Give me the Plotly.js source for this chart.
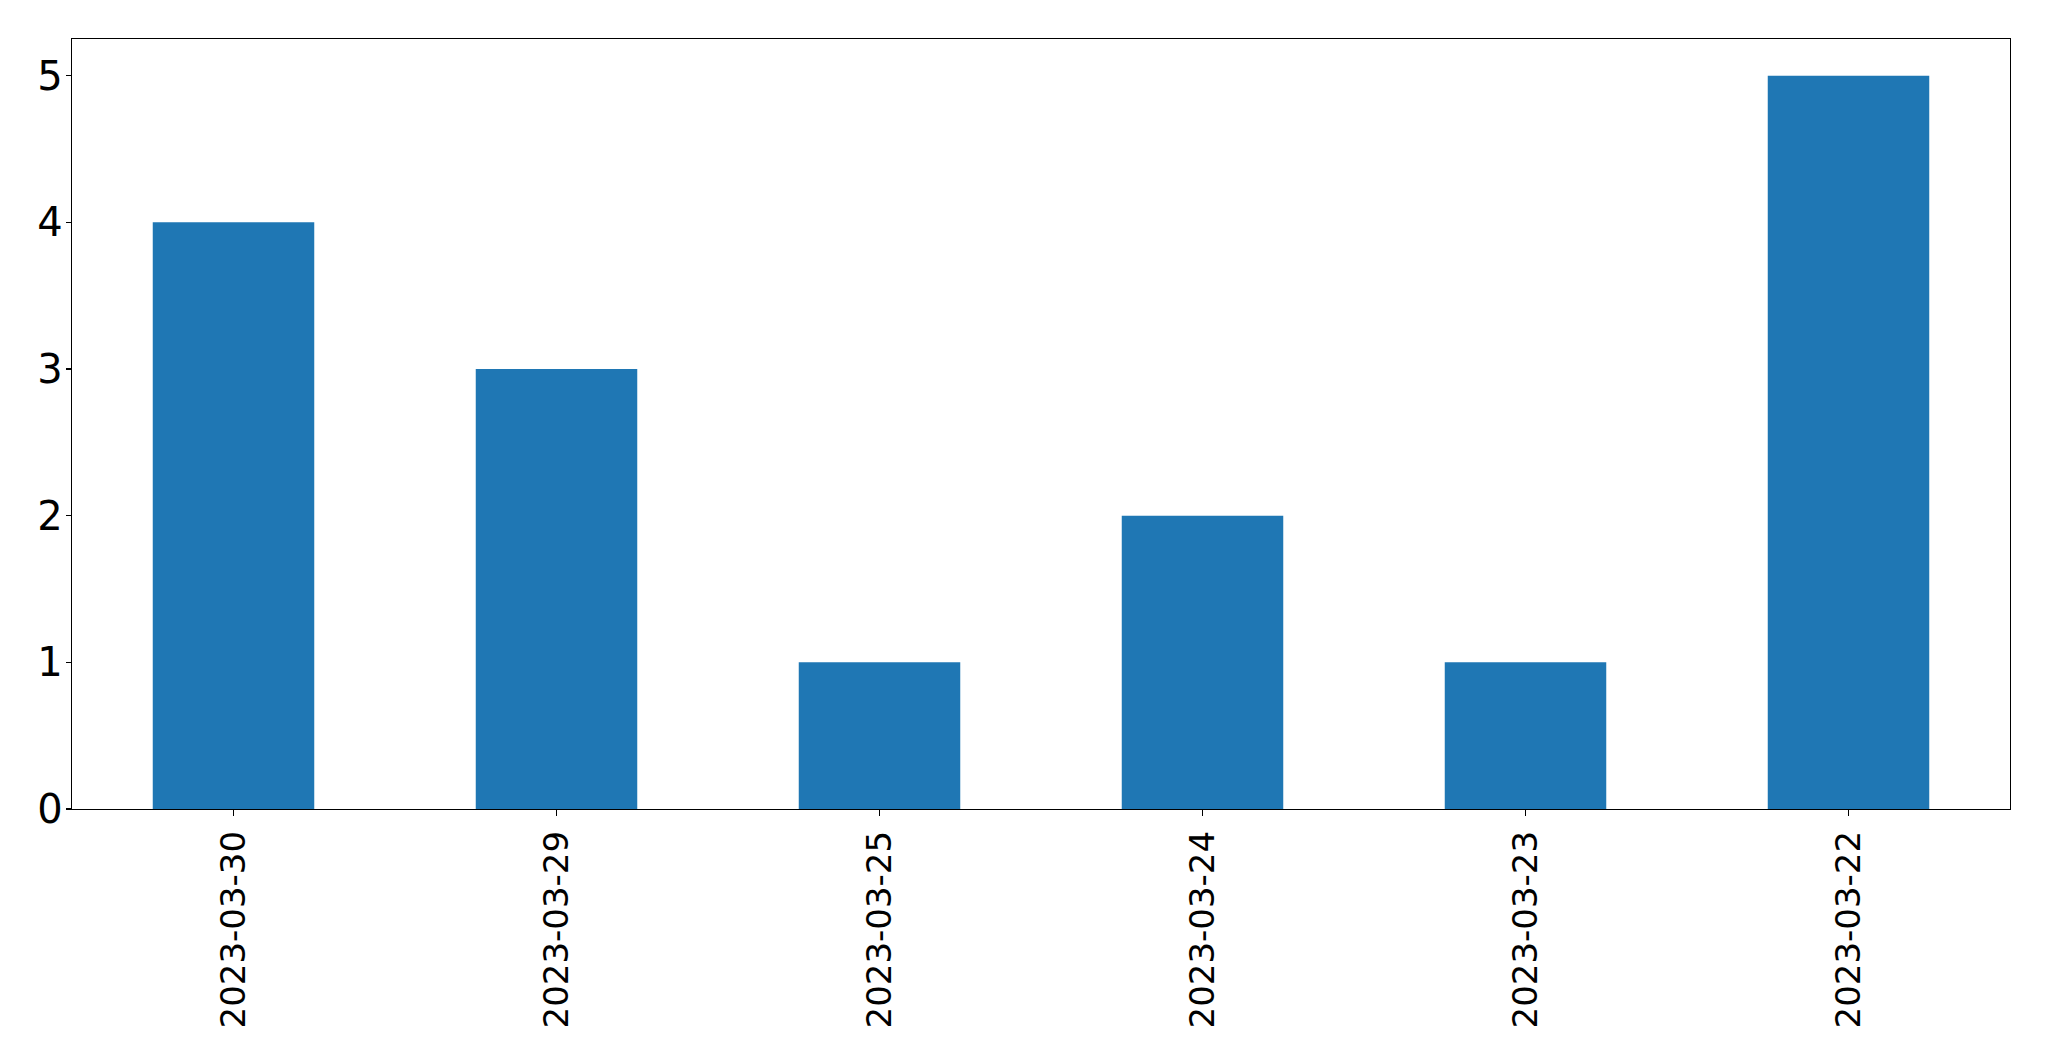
<!DOCTYPE html>
<html>
<head>
<meta charset="utf-8">
<script src="https://cdn.plot.ly/plotly-3.0.1.min.js"></script>
<style>html,body{margin:0;padding:0;background:#fff;}#chart{width:2049px;height:1061px;}</style>
</head>
<body>
<div id="chart"></div>
<script>
const categories = ["2023-03-30", "2023-03-29", "2023-03-25", "2023-03-24", "2023-03-23", "2023-03-22"];
const values = [4, 3, 1, 2, 1, 5];
const yTicks = [0, 1, 2, 3, 4, 5];

const trace = {
  type: "bar",
  x: categories,
  y: values,
  width: 0.5,
  marker: {color: "#1f77b4", line: {width: 0}},
  hoverinfo: "x+y"
};

const layout = {
  width: 2049,
  height: 1061,
  margin: {l: 72, r: 39, t: 39, b: 252, pad: 0},
  paper_bgcolor: "#fff",
  plot_bgcolor: "#fff",
  showlegend: false,
  xaxis: {
    type: "category",
    range: [-0.5, 5.5],
    tickangle: -90,
    ticks: "outside",
    ticklen: 6,
    tickwidth: 1.3,
    tickcolor: "#000",
    tickfont: {family: "DejaVu Sans", size: 34, color: "#000"},
    ticklabelstandoff: 1,
    showgrid: false,
    zeroline: false,
    showline: true,
    linecolor: "#000",
    linewidth: 1.3,
    mirror: true
  },
  yaxis: {
    range: [0, 5.25],
    tickvals: yTicks,
    ticktext: yTicks.map(String),
    ticks: "outside",
    ticklen: 5,
    tickwidth: 1.3,
    tickcolor: "#000",
    tickfont: {family: "DejaVu Sans", size: 40, color: "#000"},
    ticklabelstandoff: -5,
    showgrid: false,
    zeroline: false,
    showline: true,
    linecolor: "#000",
    linewidth: 1.3,
    mirror: true
  }
};

Plotly.newPlot("chart", [trace], layout, {displayModeBar: false, staticPlot: true});
</script>
</body>
</html>
